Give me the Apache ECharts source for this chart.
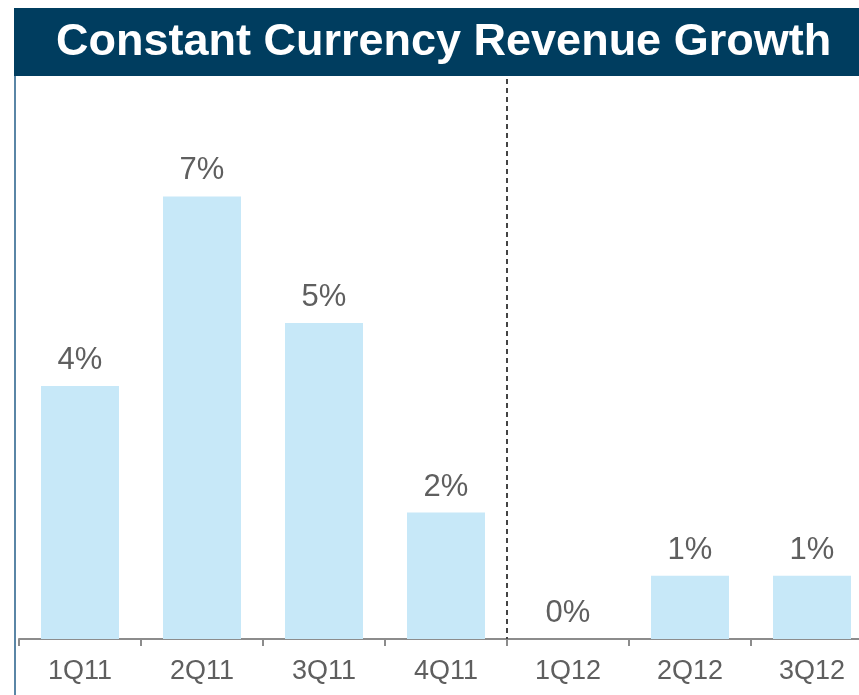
<!DOCTYPE html>
<html>
<head>
<meta charset="utf-8">
<style>
html,body{margin:0;padding:0;background:#fff;}
#chart{width:859px;height:695px;}
</style>
<script src="https://cdn.jsdelivr.net/npm/echarts@6/dist/echarts.min.js"></script>
</head>
<body>
<div id="chart"></div>
<script>
const titleText = "Constant Currency Revenue Growth";
const categories = ["1Q11", "2Q11", "3Q11", "4Q11", "1Q12", "2Q12", "3Q12"];
const growthValues = [4, 7, 5, 2, 0, 1, 1];
const labelTexts = ["4%", "7%", "5%", "2%", "0%", "1%", "1%"];
const dividerBetween = ["4Q11", "1Q12"];

const chart = echarts.init(document.getElementById('chart'), null, {renderer: 'canvas'});
chart.setOption({
  animation: false,
  backgroundColor: '#ffffff',
  grid: {left: 19, top: 70, width: 854, bottom: 56, containLabel: false, outerBoundsMode: 'none'},
  xAxis: {
    type: 'category',
    data: categories,
    boundaryGap: true,
    axisLine: {show: true, lineStyle: {color: '#8c8c8c', width: 2}},
    axisTick: {show: true, length: 7, lineStyle: {color: '#8c8c8c', width: 2}},
    axisLabel: {color: '#5f5f5f', fontSize: 27, fontFamily: 'Liberation Sans, Arial, sans-serif', margin: 19},
    splitLine: {show: false}
  },
  yAxis: {
    type: 'value',
    min: 0, max: 9,
    show: false
  },
  series: [{
    type: 'bar',
    data: growthValues,
    barWidth: 78,
    itemStyle: {color: '#c7e8f8'},
    label: {
      show: true,
      position: 'top',
      distance: 10,
      color: '#5f5f5f',
      fontSize: 31,
      fontFamily: 'Liberation Sans, Arial, sans-serif',
      formatter: function (p) { return labelTexts[p.dataIndex]; }
    }
  }]
});

const xa = chart.convertToPixel({xAxisIndex: 0}, dividerBetween[0]);
const xb = chart.convertToPixel({xAxisIndex: 0}, dividerBetween[1]);
const xDiv = Math.round((xa + xb) / 2);
const yBase = chart.convertToPixel({yAxisIndex: 0}, 0);

chart.setOption({
  graphic: [
    {type: 'line', z: 50, shape: {x1: xDiv, y1: 79, x2: xDiv, y2: yBase}, style: {stroke: '#444444', lineWidth: 2, lineDash: [5, 4]}},
    {type: 'rect', z: 100, shape: {x: 14, y: 8, width: 845, height: 68}, style: {fill: '#003d5f'}},
    {type: 'text', z: 101, x: 56, y: 43, style: {text: titleText, fill: '#ffffff', font: 'bold 45px "Liberation Sans", Arial, sans-serif', textVerticalAlign: 'middle', verticalAlign: 'middle'}},
    {type: 'line', z: 100, shape: {x1: 15, y1: 76, x2: 15, y2: 695}, style: {stroke: '#5a86a6', lineWidth: 2}}
  ]
});
</script>
</body>
</html>
